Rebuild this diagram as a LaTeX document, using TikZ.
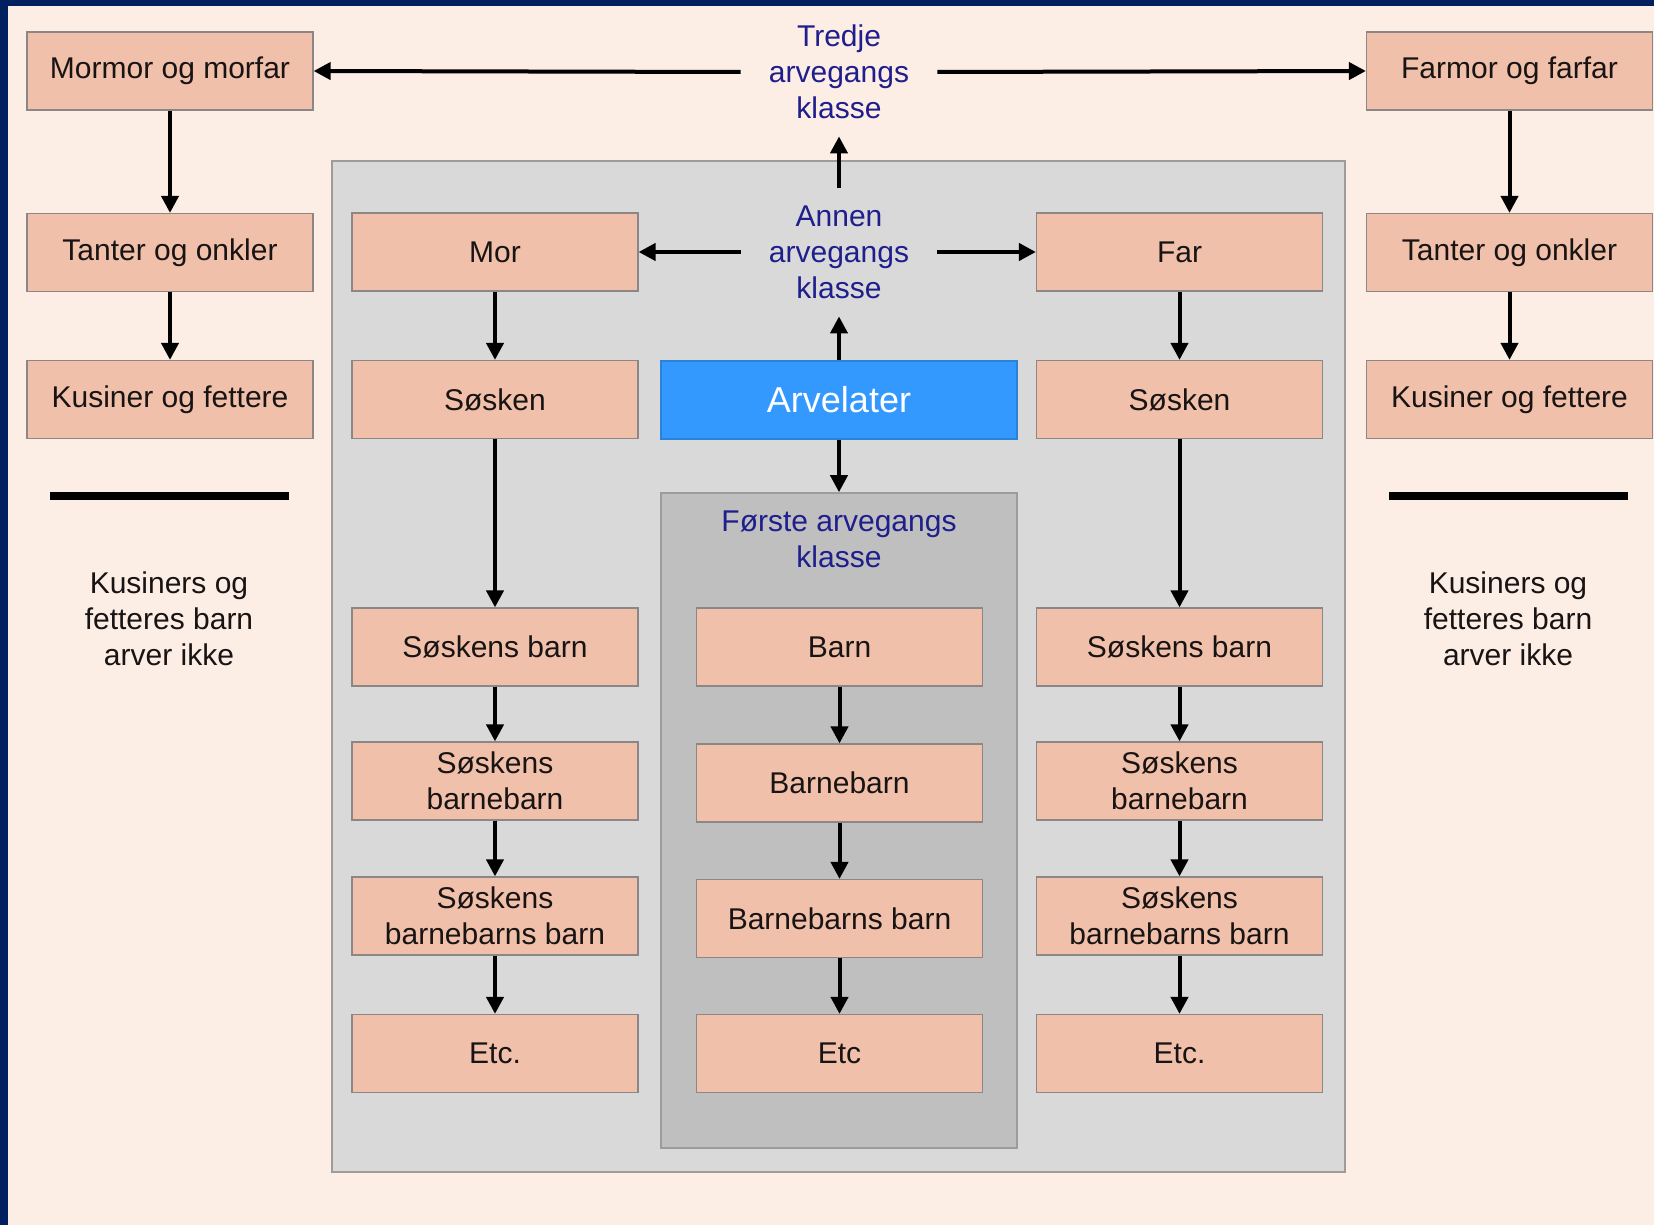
\documentclass[tikz,border=0pt]{standalone}
\usepackage{fontspec}
\setmainfont{Liberation Sans}
\usetikzlibrary{arrows.meta}
\definecolor{bgpeach}{RGB}{252,237,229}
\definecolor{navy}{RGB}{0,32,96}
\definecolor{boxfill}{RGB}{240,192,170}
\definecolor{boxline}{RGB}{140,135,135}
\definecolor{outergrey}{RGB}{217,217,217}
\definecolor{innergrey}{RGB}{191,191,191}
\definecolor{greyline}{RGB}{160,155,155}
\definecolor{arvblue}{RGB}{51,153,255}
\definecolor{lblblue}{RGB}{30,30,140}
\definecolor{txt}{RGB}{25,20,20}
\begin{document}
\begin{tikzpicture}[x=0.5pt,y=-0.5pt,
  box/.style={draw=boxline, fill=boxfill, line width=0.6pt, minimum width=143pt, minimum height=39pt, inner sep=0pt, align=center, font=\fontsize{15}{18}\selectfont, text=txt},
  lbl/.style={inner sep=0pt, minimum width=98pt, minimum height=64pt, align=center, font=\fontsize{15}{18}\selectfont, text=lblblue},
  note/.style={inner sep=0pt, align=center, font=\fontsize{15}{18}\selectfont, text=txt},
  arr/.style={-{Triangle[length=8.5pt,width=8.5pt]}, line width=2pt, black},
  bar/.style={line width=4pt, black}
]
\useasboundingbox (0,0) rectangle (1654,1225);
\fill[bgpeach] (0,0) rectangle (1654,1225);
\fill[navy] (0,0) rectangle (8,1225);
\fill[navy] (0,0) rectangle (1654,6);

% grey class boxes
\node[draw=greyline, fill=outergrey, line width=0.8pt, minimum width=506.5pt, minimum height=505.5pt, inner sep=0pt] (second) at (838.5,666.5) {};
\node[draw=greyline, fill=innergrey, line width=0.8pt, minimum width=178pt, minimum height=327.5pt, inner sep=0pt] (first) at (839,820.5) {};

% class labels
\node[lbl] (tredje) at (839,72) {Tredje\\arvegangs\\klasse};
\node[lbl] (annen) at (839,252) {Annen\\arvegangs\\klasse};
\node[lbl, minimum height=0pt] (forste) at (839,539) {Første arvegangs\\klasse};

% left outer column
\node[box] (mm) at (170,71) {Mormor og morfar};
\node[box] (tol) at (170,252.5) {Tanter og onkler};
\node[box] (kfl) at (170,399.5) {Kusiner og fettere};
% right outer column
\node[box] (ff) at (1509.5,71) {Farmor og farfar};
\node[box] (tor) at (1509.5,252.5) {Tanter og onkler};
\node[box] (kfr) at (1509.5,399.5) {Kusiner og fettere};

% mother side
\node[box] (mor) at (495,252) {Mor};
\node[box] (sl) at (495,399.5) {Søsken};
\node[box] (sbl) at (495,647) {Søskens barn};
\node[box] (sbbl) at (495,781) {Søskens\\barnebarn};
\node[box] (sbbbl) at (495,916) {Søskens\\barnebarns barn};
\node[box] (etcl) at (495,1053.5) {Etc.};
% father side
\node[box] (far) at (1179.5,252) {Far};
\node[box] (sr) at (1179.5,399.5) {Søsken};
\node[box] (sbr) at (1179.5,647) {Søskens barn};
\node[box] (sbbr) at (1179.5,781) {Søskens\\barnebarn};
\node[box] (sbbbr) at (1179.5,916) {Søskens\\barnebarns barn};
\node[box] (etcr) at (1179.5,1053.5) {Etc.};
% centre
\node[box, draw=arvblue!85!black, fill=arvblue, minimum width=178pt, text=white, font=\fontsize{18}{20}\selectfont] (arv) at (839,400) {Arvelater};
\node[box] (barn) at (839.5,647) {Barn};
\node[box] (bb) at (839.5,783) {Barnebarn};
\node[box] (bbb) at (839.5,918.5) {Barnebarns barn};
\node[box] (etcm) at (839.5,1053.5) {Etc};

% notes
\draw[bar] (50,496) -- (289,496);
\draw[bar] (1389,496) -- (1628,496);
\node[note] (nl) at (169,619) {Kusiners og\\fetteres barn\\arver ikke};
\node[note] (nr) at (1508,619) {Kusiners og\\fetteres barn\\arver ikke};

% arrows
\draw[arr] (tredje.west) -- (mm.east);
\draw[arr] (tredje.east) -- (ff.west);
\draw[arr] (annen.north) -- (tredje.south);
\draw[arr] (annen.west) -- (mor.east);
\draw[arr] (annen.east) -- (far.west);
\draw[arr] (arv.north) -- (annen.south);
\draw[arr] (arv.south) -- (first.north);

\draw[arr] (mm) -- (tol);
\draw[arr] (tol) -- (kfl);
\draw[arr] (ff) -- (tor);
\draw[arr] (tor) -- (kfr);

\draw[arr] (mor) -- (sl);
\draw[arr] (sl) -- (sbl);
\draw[arr] (sbl) -- (sbbl);
\draw[arr] (sbbl) -- (sbbbl);
\draw[arr] (sbbbl) -- (etcl);

\draw[arr] (far) -- (sr);
\draw[arr] (sr) -- (sbr);
\draw[arr] (sbr) -- (sbbr);
\draw[arr] (sbbr) -- (sbbbr);
\draw[arr] (sbbbr) -- (etcr);

\draw[arr] (barn) -- (bb);
\draw[arr] (bb) -- (bbb);
\draw[arr] (bbb) -- (etcm);
\end{tikzpicture}
\end{document}
